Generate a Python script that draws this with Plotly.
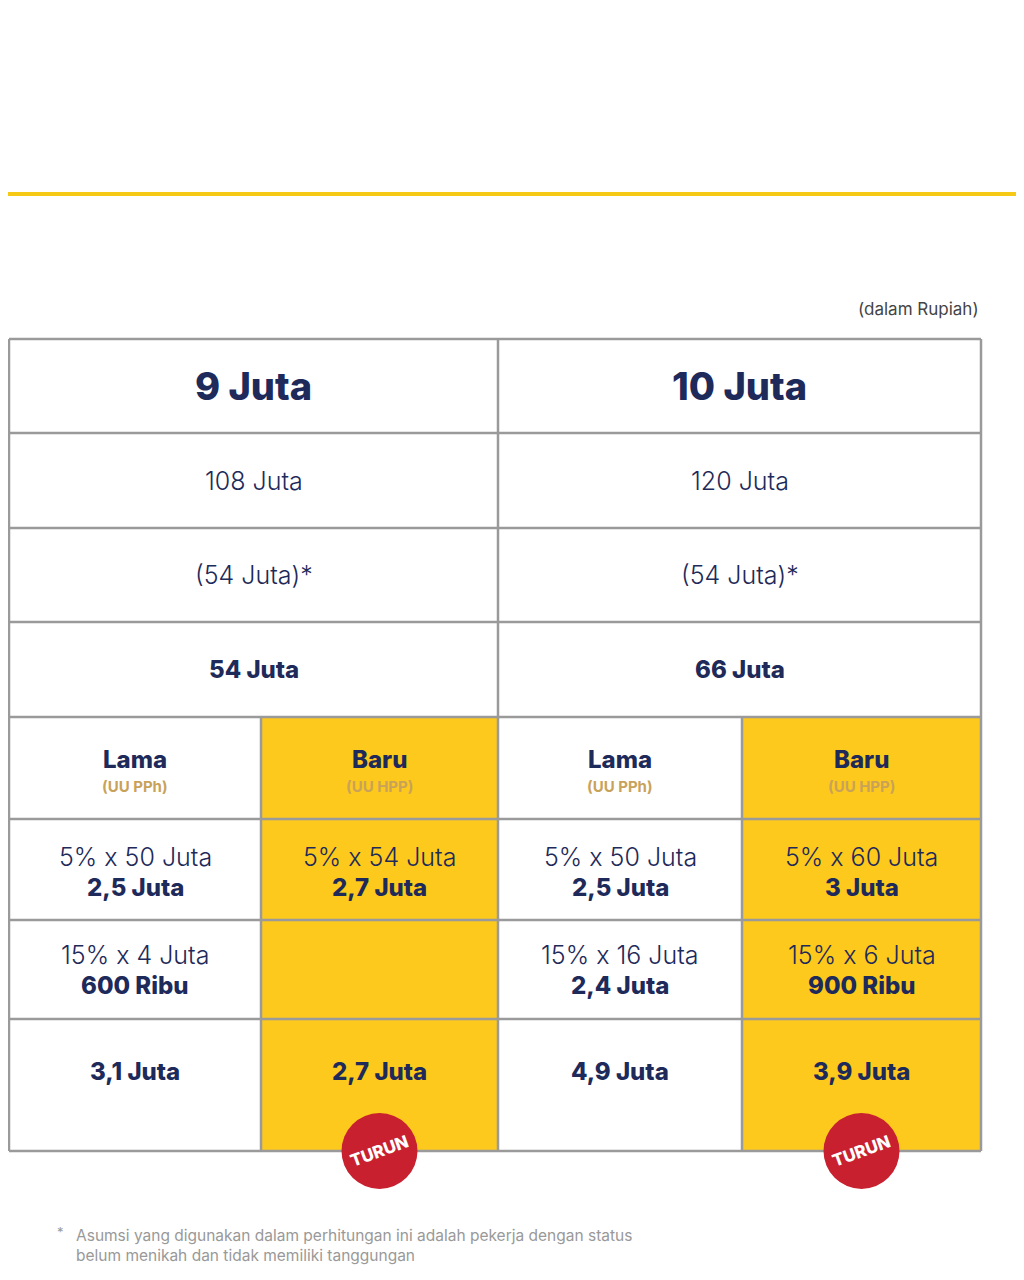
import plotly.graph_objects as go

# ---- data ----
incomes = ["9 Juta", "10 Juta"]
annual = ["108 Juta", "120 Juta"]
ptkp = ["(54 Juta)*", "(54 Juta)*"]
pkp = ["54 Juta", "66 Juta"]
regimes = ["Lama", "Baru"]
regime_law = ["(UU PPh)", "(UU HPP)"]
# per income: [lama, baru] for each bracket row
bracket1_formula = [["5% x 50 Juta", "5% x 54 Juta"], ["5% x 50 Juta", "5% x 60 Juta"]]
bracket1_value = [["2,5 Juta", "2,7 Juta"], ["2,5 Juta", "3 Juta"]]
bracket2_formula = [["15% x 4 Juta", ""], ["15% x 16 Juta", "15% x 6 Juta"]]
bracket2_value = [["600 Ribu", ""], ["2,4 Juta", "900 Ribu"]]
totals = [["3,1 Juta", "2,7 Juta"], ["4,9 Juta", "3,9 Juta"]]
badge = "TURUN"
unit_note = "(dalam Rupiah)"
footnote = "Asumsi yang digunakan dalam perhitungan ini adalah pekerja dengan status<br>belum menikah dan tidak memiliki tanggungan"

# ---- layout geometry ----
col_x = [1, 253, 490, 734, 973]
row_y = [331, 425, 520, 614, 709, 811, 912, 1011, 1143]
NAVY = "#1E2A5A"
YEL = "#FDC91C"
GRID = "#9A9A9A"
GOLD = "#C9A25A"
FONT = "Inter"

fig = go.Figure()
shapes, ann = [], []

def txt(x, y, s, size, bold=False, color=NAVY, weight=None, **kw):
    ann.append(dict(x=x, y=y, text=s, showarrow=False, xref="x", yref="y",
                    font=dict(family=FONT, size=size, color=color,
                              weight=weight if weight else (800 if bold else 300)), **kw))

# yellow top rule
shapes.append(dict(type="line", x0=0, x1=1024, y0=186, y1=186, line=dict(color="#F5C915", width=4)))

# yellow cells (Baru columns, rows 4..8)
for g in range(2):
    x0, x1 = col_x[2 * g + 1], col_x[2 * g + 2]
    shapes.append(dict(type="rect", x0=x0, x1=x1, y0=row_y[4], y1=row_y[8],
                       fillcolor=YEL, line_width=0, layer="below"))

# grid lines
for y in row_y:
    shapes.append(dict(type="line", x0=col_x[0], x1=col_x[-1], y0=y, y1=y, line=dict(color=GRID, width=2.5)))
for i, x in enumerate(col_x):
    y0 = row_y[0] if i in (0, 2, 4) else row_y[4]
    shapes.append(dict(type="line", x0=x, x1=x, y0=y0, y1=row_y[-1], line=dict(color=GRID, width=2.5)))

def mid(a, b):
    return (a + b) / 2

for g in range(2):
    cx = mid(col_x[2 * g], col_x[2 * g + 2])
    txt(cx, mid(row_y[0], row_y[1]), incomes[g], 38, weight=800)
    txt(cx, mid(row_y[1], row_y[2]), annual[g], 25)
    txt(cx, mid(row_y[2], row_y[3]), ptkp[g], 25)
    txt(cx, mid(row_y[3], row_y[4]), pkp[g], 24, weight=800)
    for r in range(2):
        sx = mid(col_x[2 * g + r], col_x[2 * g + r + 1])
        txt(sx, row_y[4] + 42, regimes[r], 24, weight=800)
        txt(sx, row_y[4] + 69, regime_law[r], 15, color=GOLD, weight=700)
        txt(sx, row_y[5] + 38, bracket1_formula[g][r], 25)
        txt(sx, row_y[5] + 68, bracket1_value[g][r], 24, weight=800)
        if bracket2_formula[g][r]:
            txt(sx, row_y[6] + 35, bracket2_formula[g][r], 25)
            txt(sx, row_y[6] + 65, bracket2_value[g][r], 24, weight=800)
        txt(sx, row_y[7] + 52, totals[g][r], 24, weight=800)
    # badge
    bx = mid(col_x[2 * g + 1], col_x[2 * g + 2])
    shapes.append(dict(type="circle", x0=bx - 38, x1=bx + 38, y0=row_y[8] - 38, y1=row_y[8] + 38,
                       fillcolor="#C8202F", line_width=0))
    txt(bx, row_y[8], badge, 17, color="white", weight=800, textangle=-20)

txt(973, 301, unit_note, 17, color="#444", weight=400, xanchor="right")
txt(47, 1224, "*", 13, color="#999", weight=400, xanchor="left")
txt(66, 1237, footnote, 15.5, color="#999", weight=400, xanchor="left", align="left")

fig.update_layout(width=1024, height=1280, margin=dict(l=0, r=0, t=0, b=0),
                  plot_bgcolor="white", paper_bgcolor="white", shapes=shapes, annotations=ann,
                  showlegend=False,
                  xaxis=dict(range=[0, 1024], visible=False, fixedrange=True),
                  yaxis=dict(range=[1280, 0], visible=False, fixedrange=True))
fig.write_html("out.html", config={"displayModeBar": False})
